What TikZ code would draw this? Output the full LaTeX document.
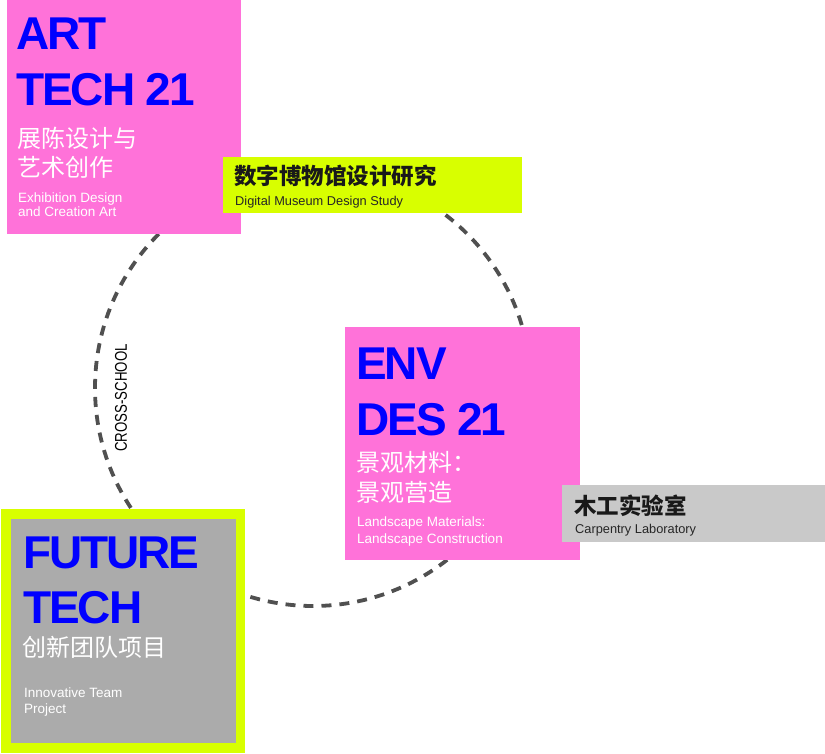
\documentclass[tikz,border=0pt]{standalone}
\usepackage{fontspec}
\setmainfont{Liberation Sans}
\newfontfamily\cjk{Noto Sans CJK SC}
\newfontfamily\narrowfont[FakeStretch=0.78]{Liberation Sans}
\usepackage{xcolor}
\usetikzlibrary{positioning}

\definecolor{hotpink}{HTML}{FF72D9}
\definecolor{lime}{HTML}{D8FF00}
\definecolor{midgrey}{HTML}{ABABAB}
\definecolor{lightgrey}{HTML}{C9C9C9}
\definecolor{ringgrey}{HTML}{505050}
\definecolor{titleblue}{HTML}{0000FF}

\begin{document}
\begin{tikzpicture}[
        x=1pt, y=-1pt,
        box/.style={anchor=north west, inner sep=0pt, outer sep=0pt},
        pinkbox/.style={box, fill=hotpink, minimum width=234, minimum height=234},
        tagbox/.style={box, minimum height=57},
        ring/.style={ringgrey, line width=3.8pt, dash pattern=on 10pt off 8pt},
        title/.style={anchor=base west, inner sep=0pt, text=titleblue,
          font=\fontsize{46}{46}\selectfont\bfseries\addfontfeature{LetterSpace=-4.5}},
        zh/.style={anchor=base west, inner sep=0pt, text=white,
          font=\cjk\fontsize{24}{24}\selectfont},
        zhtag/.style={anchor=base west, inner sep=0pt, text=black!90,
          font=\cjk\fontsize{22.5}{22.5}\selectfont\bfseries},
        en/.style={anchor=base west, inner sep=0pt, text=white,
          font=\fontsize{13.5}{14}\selectfont},
        entag/.style={anchor=base west, inner sep=0pt, text=black!85,
          font=\fontsize{12.8}{13}\selectfont},
      ]

      \useasboundingbox (0,0) rectangle (825,754);

      % dashed ring behind the boxes
      \coordinate (hub) at (313,388);
      \draw[ring] (hub) circle[radius=218];
      \node[rotate=90, inner sep=0pt, font=\narrowfont\fontsize{17}{17}\selectfont]
        (cross) at (121,398) {CROSS-SCHOOL};

      % art tech
      \node[pinkbox] (art) at (7,0) {};
      \node[title] (art-t1) at ([shift={(9,50)}]art.north west) {ART};
      \node[title] (art-t2) at ([shift={(9,106)}]art.north west) {TECH 21};
      \node[zh] (art-z1) at ([shift={(10,148)}]art.north west) {展陈设计与};
      \node[zh] (art-z2) at ([shift={(10,177)}]art.north west) {艺术创作};
      \node[en] (art-e1) at ([shift={(11,203)}]art.north west) {Exhibition Design};
      \node[en] (art-e2) at ([shift={(11,217)}]art.north west) {and Creation Art};

      \node[tagbox, fill=lime, minimum width=299, minimum height=56] (museum) at (223,157) {};
      \node[zhtag] (museum-z) at ([shift={(11,28)}]museum.north west) {数字博物馆设计研究};
      \node[entag] (museum-e) at ([shift={(12,49)}]museum.north west) {Digital Museum Design Study};

      % env des
      \node[pinkbox, minimum width=235, minimum height=233] (env) at (345,327) {};
      \node[title] (env-t1) at ([shift={(11,52)}]env.north west) {ENV};
      \node[title] (env-t2) at ([shift={(11,108)}]env.north west) {DES 21};
      \node[zh] (env-z1) at ([shift={(11,144)}]env.north west) {景观材料：};
      \node[zh] (env-z2) at ([shift={(11,174)}]env.north west) {景观营造};
      \node[en] (env-e1) at ([shift={(12,199)}]env.north west) {Landscape Materials:};
      \node[en] (env-e2) at ([shift={(12,216)}]env.north west) {Landscape Construction};

      \node[tagbox, fill=lightgrey, minimum width=263] (wood) at (562,485) {};
      \node[zhtag] (wood-z) at ([shift={(12,29)}]wood.north west) {木工实验室};
      \node[entag] (wood-e) at ([shift={(13,48)}]wood.north west) {Carpentry Laboratory};

      % future tech
      \node[box, fill=midgrey, draw=lime, line width=9.5pt,
        minimum width=234.5, minimum height=234] (future) at (6,514) {};
      \node[title] (fut-t1) at ([shift={(17,54)}]future.north west) {FUTURE};
      \node[title] (fut-t2) at ([shift={(17,109)}]future.north west) {TECH};
      \node[zh] (fut-z) at ([shift={(16,142)}]future.north west) {创新团队项目};
      \node[en] (fut-e1) at ([shift={(18,183)}]future.north west) {Innovative Team};
      \node[en] (fut-e2) at ([shift={(18,199)}]future.north west) {Project};

    \end{tikzpicture}
\end{document}
